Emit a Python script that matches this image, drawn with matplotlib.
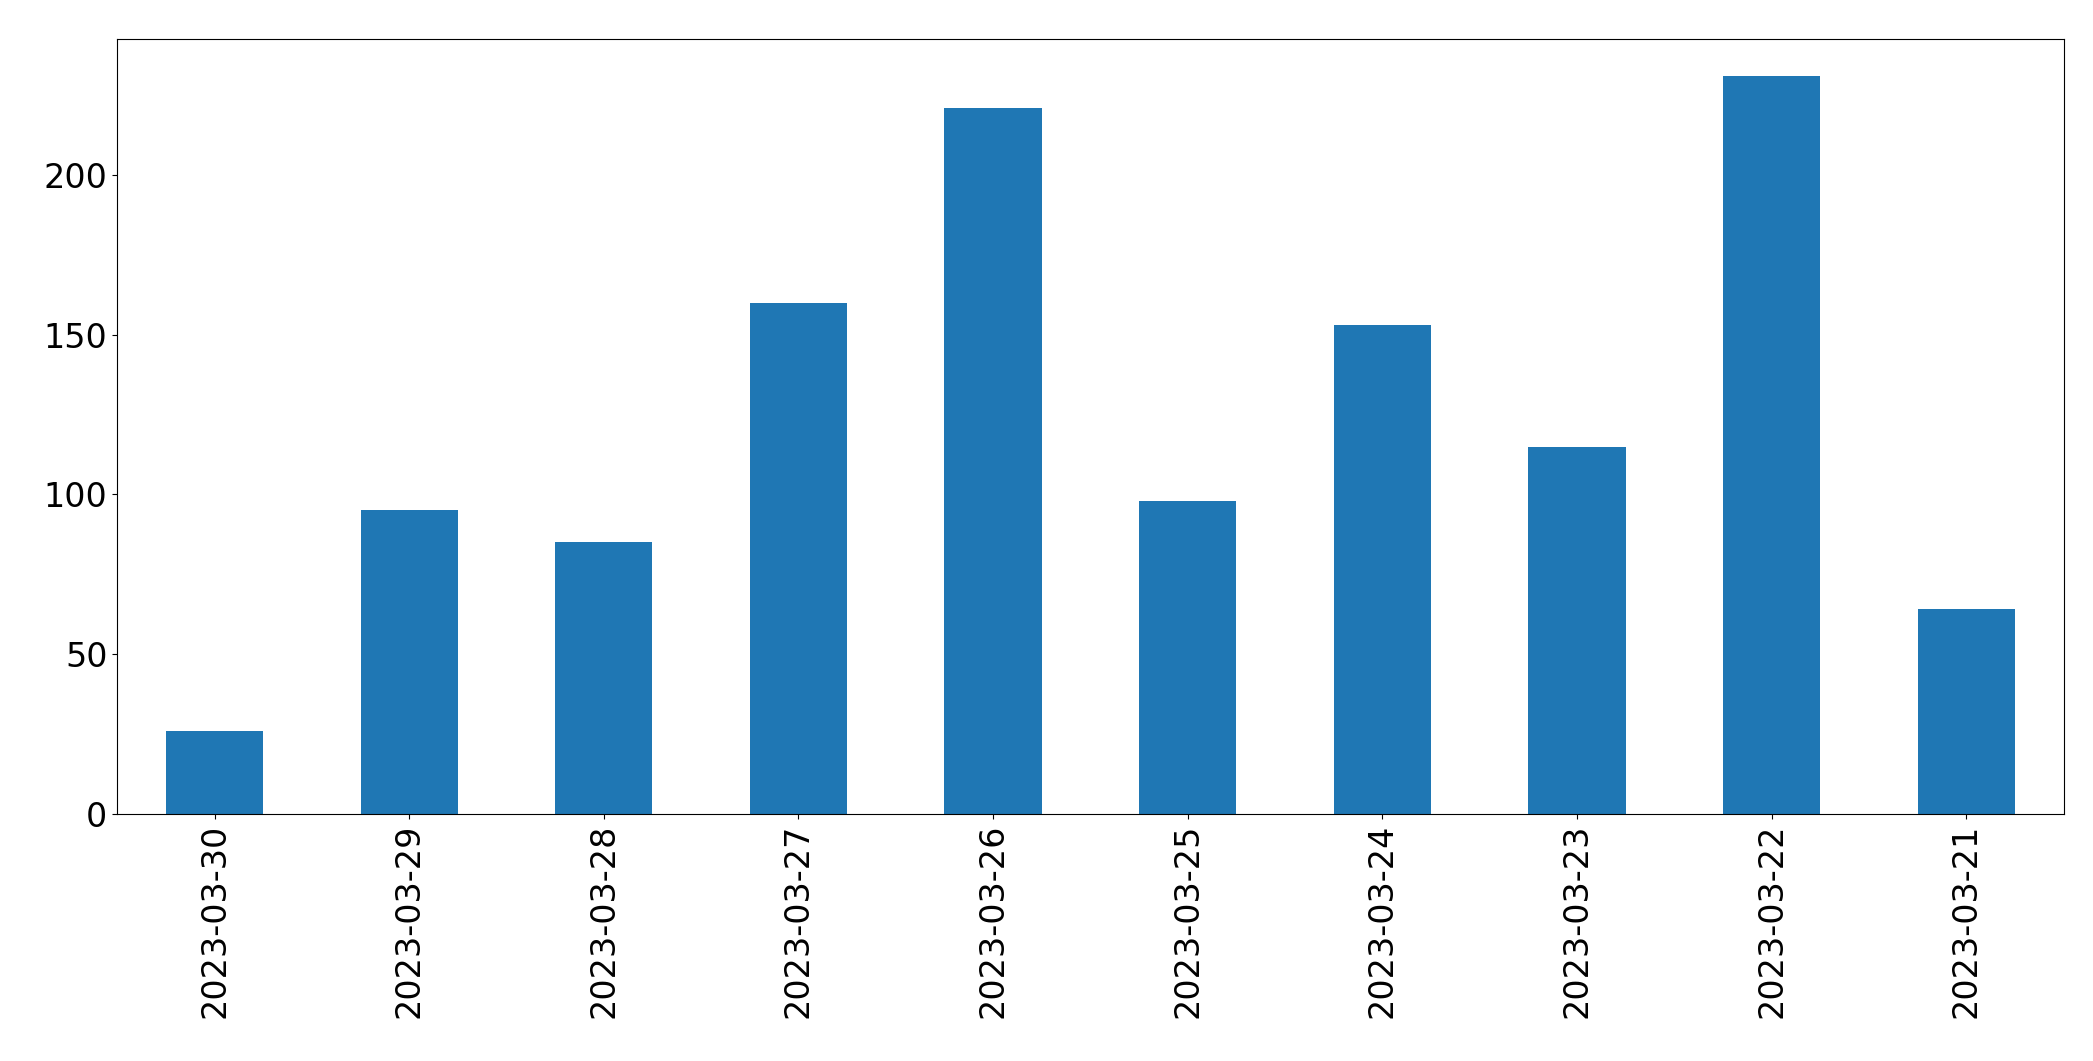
import matplotlib
matplotlib.use("Agg")
import matplotlib.pyplot as plt

dates = ["2023-03-30", "2023-03-29", "2023-03-28", "2023-03-27", "2023-03-26",
         "2023-03-25", "2023-03-24", "2023-03-23", "2023-03-22", "2023-03-21"]
counts = [26, 95, 85, 160, 221, 98, 153, 115, 231, 64]

fig = plt.figure(figsize=(20.93, 10.61), dpi=100)
ax = fig.add_axes([0.056, 0.233, 0.930, 0.730])
x = range(len(dates))
ax.bar(x, counts, width=0.5, color="#1f77b4")
ax.set_xticks(list(x))
ax.set_xticklabels(dates, rotation=90)
ax.set_xlim(-0.5, len(dates) - 0.5)
ax.tick_params(labelsize=24)
fig.savefig("out.png", dpi=100)
